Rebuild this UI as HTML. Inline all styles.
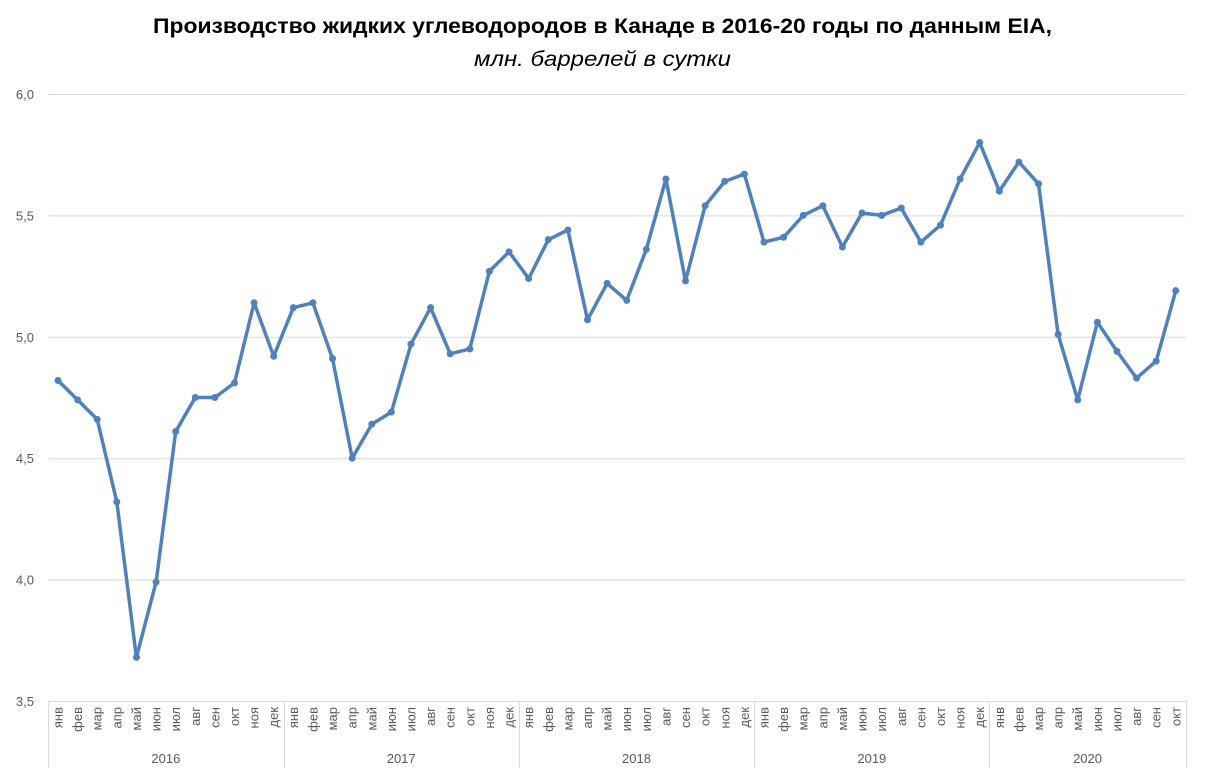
<!DOCTYPE html>
<html><head><meta charset="utf-8"><style>
body{margin:0;background:#fff;}
svg{display:block;font-family:"Liberation Sans","DejaVu Sans",sans-serif;}
</style></head><body>
<svg id="s" width="1207" height="773" viewBox="0 0 1207 773" xmlns="http://www.w3.org/2000/svg">
<rect width="1207" height="773" fill="#fff"/>
<text x="153" y="33" font-size="21" font-weight="bold" fill="#000" textLength="899" lengthAdjust="spacingAndGlyphs">Производство жидких углеводородов в Канаде в 2016-20 годы по данным EIA,</text>
<text x="474" y="66" font-size="21" font-style="italic" fill="#000" textLength="257" lengthAdjust="spacingAndGlyphs">млн. баррелей в сутки</text>
<g id="grid" stroke="#d9d9d9" stroke-width="1"></g>
<g id="ylab" font-size="13" fill="#595959" text-anchor="end"></g>
<g id="xax" stroke="#d9d9d9" stroke-width="1"></g>
<g id="xlab" font-size="13" fill="#595959"></g>
<polyline id="line" fill="none" stroke="#4f81bd" stroke-width="3.5" stroke-linejoin="round"/>
<g id="dots" fill="#4f81bd"></g>
</svg>
<script>
var NS="http://www.w3.org/2000/svg";
function el(p,t,a,txt){var e=document.createElementNS(NS,t);for(var k in a)e.setAttribute(k,a[k]);if(txt)e.textContent=txt;document.getElementById(p).appendChild(e);return e;}
var L=48.2,R=1185.6,T=94,B=701,step=(R-L)/58;
function Y(v){return T+(6-v)*(B-T)/2.5;}
var labs=["3,5","4,0","4,5","5,0","5,5","6,0"];
for(var i=0;i<6;i++){var v=3.5+i*0.5,y=Y(v);
 if(i>0)el("grid","line",{x1:L,x2:R,y1:y+.5,y2:y+.5});
 el("ylab","text",{x:34,y:y+5},labs[i]);}
el("xax","line",{x1:L,x2:R,y1:B+.5,y2:B+.5});
for(var yr=0;yr<=5;yr++){var x=Math.round(L+yr*12*step)+.5;if(yr==5)x=Math.round(R)+.5;
 el("xax","line",{x1:x,x2:x,y1:B,y2:768});}
var mon=["янв","фев","мар","апр","май","июн","июл","авг","сен","окт","ноя","дек"];
var vals=[4.82,4.74,4.66,4.32,3.68,3.99,4.61,4.75,4.75,4.81,5.14,4.92,
5.12,5.14,4.91,4.50,4.64,4.69,4.97,5.12,4.93,4.95,5.27,5.35,
5.24,5.40,5.44,5.07,5.22,5.15,5.36,5.65,5.23,5.54,5.64,5.67,
5.39,5.41,5.50,5.54,5.37,5.51,5.50,5.53,5.39,5.46,5.65,5.80,
5.60,5.72,5.63,5.01,4.74,5.06,4.94,4.83,4.90,5.19];
var pts=[];
for(var i=0;i<vals.length;i++){var x=L+(i+.5)*step,y=Y(vals[i]);pts.push(x.toFixed(1)+","+y.toFixed(1));
 el("dots","circle",{cx:x,cy:y,r:3.5});
 el("xlab","text",{x:0,y:0,"text-anchor":"end",transform:"translate("+(x+4.5)+",707) rotate(-90)"},mon[i%12]);}
document.getElementById("line").setAttribute("points",pts.join(" "));
var yrs=["2016","2017","2018","2019","2020"];
for(var k=0;k<5;k++){var x0=L+k*12*step,x1=k==4?R:L+(k+1)*12*step;
 el("xlab","text",{x:(x0+x1)/2,y:763,"text-anchor":"middle","font-size":"13"},yrs[k]);}
</script>
</body></html>
